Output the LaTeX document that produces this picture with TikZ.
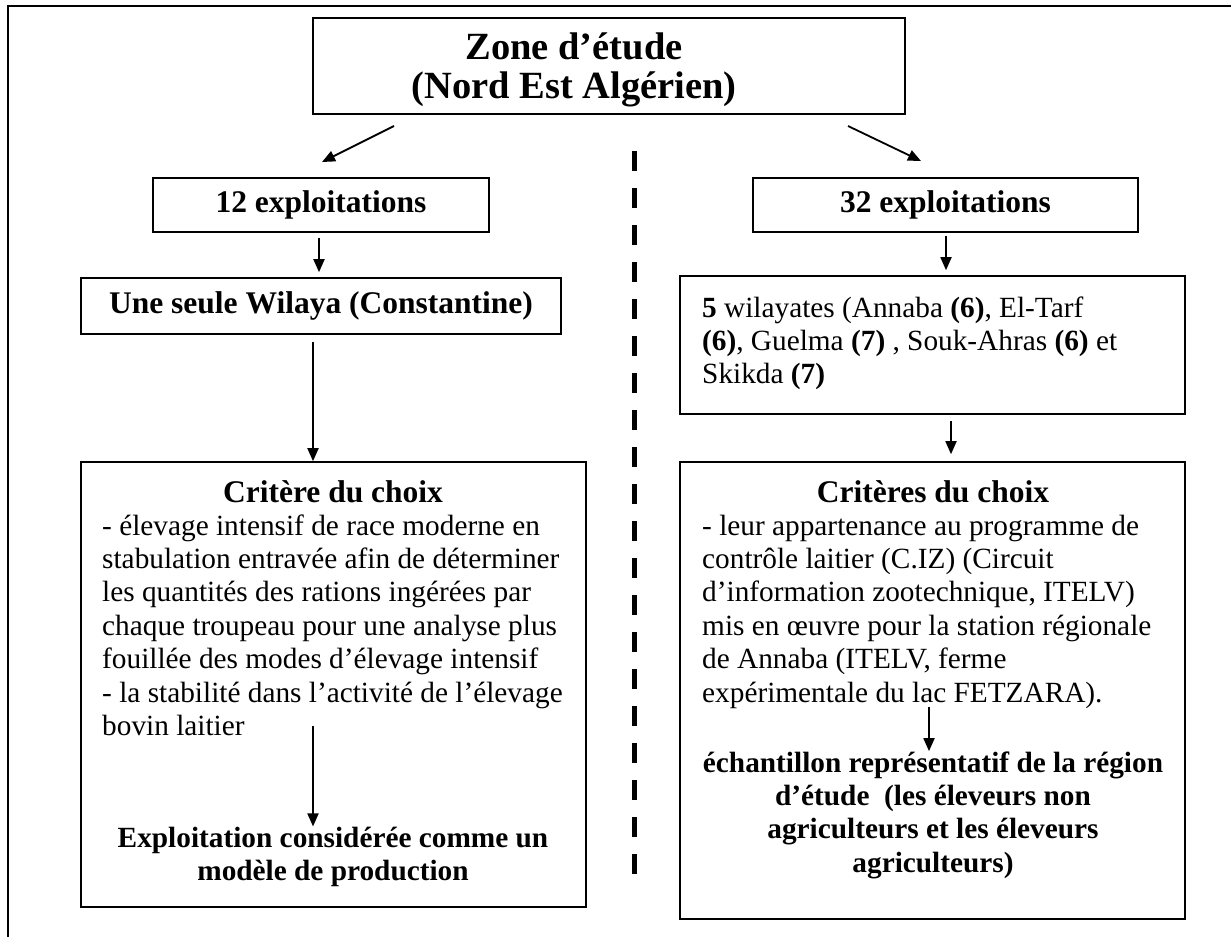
\documentclass[tikz,border=0pt]{standalone}
\usepackage{fontspec}
\setmainfont{Liberation Serif}
\usetikzlibrary{arrows.meta,calc}
\newcommand\LinesL[1]{\vtop{\halign{##\hfil\cr #1\crcr}}}
\newcommand\LinesC[1]{\vtop{\halign{\hfil##\hfil\cr #1\crcr}}}
\begin{document}
\begin{tikzpicture}[x=1pt,y=-1pt,
  box/.style={draw, line width=1.6pt, inner sep=0pt},
  lab/.style={font=\fontsize{31.5}{36}\selectfont\bfseries},
  body/.style={inner sep=0pt, font=\fontsize{29.3}{33.4}\selectfont},
  bbody/.style={inner sep=0pt, font=\fontsize{29.3}{33.4}\selectfont\bfseries},
  arr/.style={line width=1.8pt, -{Triangle[width=11pt,length=13pt]}},
  frame/.style={line width=2.4pt},
  divider/.style={line width=5pt, dash pattern=on 20pt off 17pt}]
\useasboundingbox (0,0) rectangle (1231,937);
% outer frame (top and left)
\coordinate (frTR) at (1231,6);
\coordinate (frTL) at (8,6);
\coordinate (frBL) at (8,937);
\draw[frame] (frTR) -- (frTL) -- (frBL);
% title box
\node[box, minimum width=592, minimum height=96] (zone) at (609,66) {};
\node[inner sep=0pt, anchor=base, font=\fontsize{38.5}{39}\selectfont\bfseries] (zonet) at (574,59)
  {\LinesC{Zone d’étude\cr (Nord Est Algérien)}};
% second row
\node[box, lab, minimum width=336, minimum height=54] (n12) at (321,205) {12 exploitations};
\node[box, lab, minimum width=385, minimum height=54] (n32) at (945.5,205) {32 exploitations};
% third row
\node[box, lab, minimum width=480, minimum height=56] (une) at (321,306) {Une seule Wilaya (Constantine)};
\node[box, minimum width=505, minimum height=138] (w5) at (932.5,345) {};
\node[body, anchor=base west] (w5t) at (702,317)
  {\LinesL{\textbf{5} wilayates (Annaba \textbf{(6)}, El-Tarf\cr
  \textbf{(6)}, Guelma \textbf{(7)} , Souk-Ahras \textbf{(6)} et\cr
  Skikda \textbf{(7)}}};
% criteria boxes
\node[box, minimum width=505, minimum height=445] (critL) at (333.5,684.5) {};
\node[box, minimum width=505, minimum height=457] (critR) at (932.5,690.5) {};
\node[lab, inner sep=0pt, anchor=base] (critLh) at (333,502) {Critère du choix};
\node[lab, inner sep=0pt, anchor=base] (critRh) at (933,502) {Critères du choix};
\node[body, anchor=base west] (critLb) at (102,535)
  {\LinesL{- élevage intensif de race moderne en\cr
  stabulation entravée afin de déterminer\cr
  les quantités des rations ingérées par\cr
  chaque troupeau pour une analyse plus\cr
  fouillée des modes d’élevage intensif\cr
  - la stabilité dans l’activité de l’élevage\cr
  bovin laitier}};
\node[body, anchor=base west] (critRb) at (702,535)
  {\LinesL{- leur appartenance au programme de\cr
  contrôle laitier (C.IZ) (Circuit\cr
  d’information zootechnique, ITELV)\cr
  mis en œuvre pour la station régionale\cr
  de Annaba (ITELV, ferme\cr
  expérimentale du lac FETZARA).}};
\node[bbody, anchor=base] (conclL) at (333,847)
  {\LinesC{Exploitation considérée comme un\cr modèle de production}};
\node[bbody, anchor=base] (conclR) at (933,772)
  {\LinesC{échantillon représentatif de la région\cr
  d’étude\ \ (les éleveurs non\cr
  agriculteurs et les éleveurs\cr
  agriculteurs)}};
% divider
\coordinate (dvT) at (634,151);
\coordinate (dvB) at (634,880);
\draw[divider] (dvT) -- (dvB);
% arrows from title
\coordinate (aLs) at (394,126);
\coordinate (aLe) at (322,162);
\coordinate (aRs) at (848,126);
\coordinate (aRe) at (921,161);
\draw[arr] (aLs) -- (aLe);
\draw[arr] (aRs) -- (aRe);
% vertical arrows
\draw[arr] ([xshift=-2pt,yshift=-5pt]n12.south) -- ([xshift=-2pt,yshift=5pt]n12.south |- une.north);
\draw[arr] ([xshift=0.5pt,yshift=-3pt]n32.south) -- ([xshift=0.5pt,yshift=5pt]n32.south |- w5.north);
\draw[arr] ([xshift=-8pt,yshift=-7pt]une.south) -- ([xshift=-8pt]une.south |- critL.north);
\draw[arr] ([xshift=18.5pt,yshift=-6pt]w5.south) -- ([xshift=18.5pt,yshift=7pt]w5.south |- critR.north);
\coordinate (iLs) at (313,726);
\coordinate (iRs) at (929,707);
\draw[arr] (iLs) -- (iLs |- conclL.north);
\draw[arr] (iRs) -- (iRs |- conclR.north);
\end{tikzpicture}
\end{document}
